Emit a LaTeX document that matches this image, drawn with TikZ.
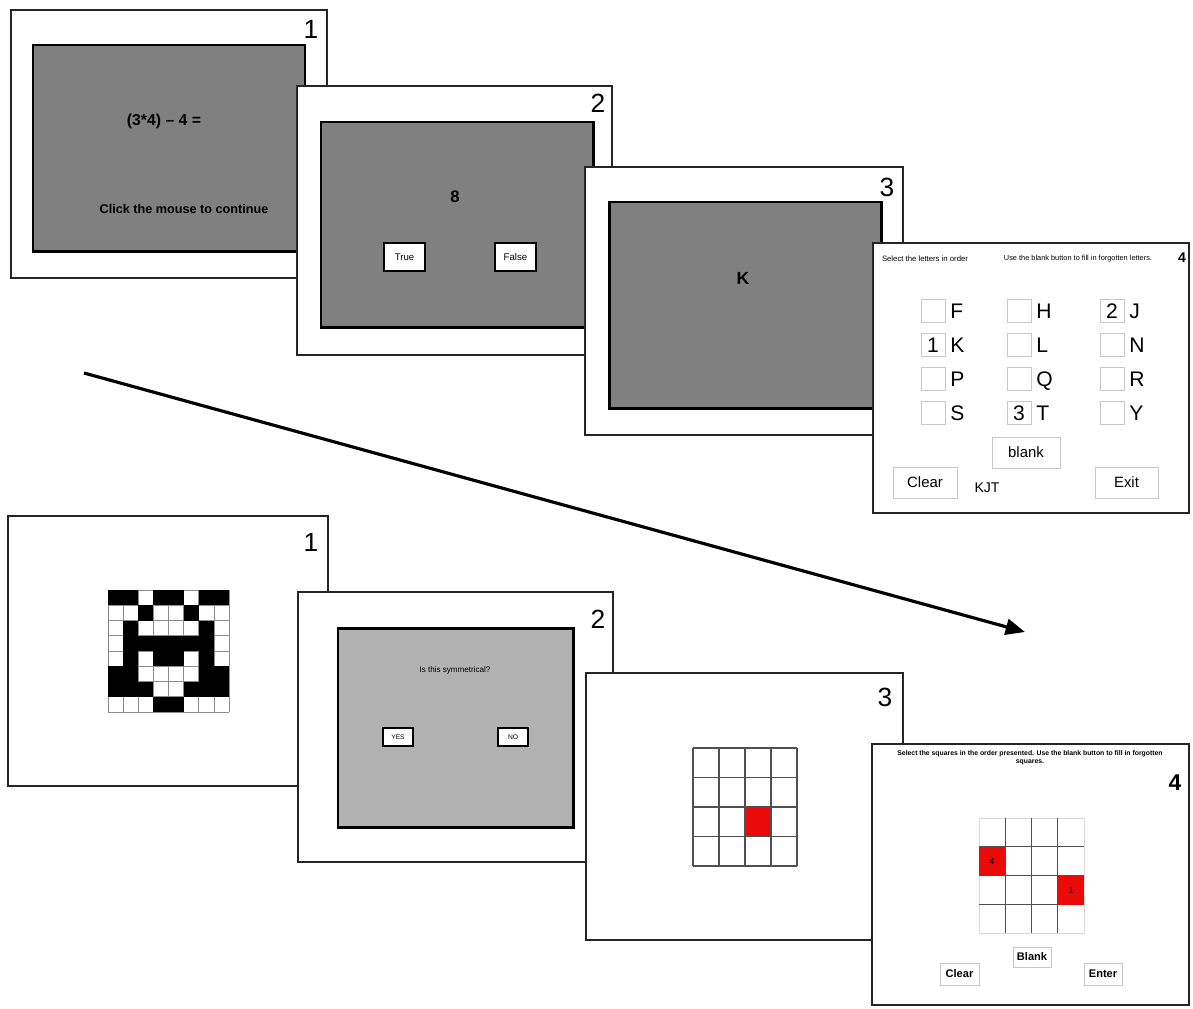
\documentclass[tikz,border=0pt]{standalone}
\usepackage{fontspec}
\setmainfont{Liberation Sans}
\usetikzlibrary{arrows.meta}
\definecolor{scrgray}{RGB}{128,128,128}
\definecolor{scrlight}{RGB}{178,178,178}
\definecolor{cellred}{RGB}{235,10,10}
\definecolor{btnline}{RGB}{200,200,200}
\definecolor{gridgray}{RGB}{80,80,80}
\newcommand\fsz[1]{\fontsize{#1}{#1}\selectfont}
\begin{document}
\begin{tikzpicture}[x=0.02cm,y=-0.02cm,
  frame/.style={draw=black!85,line width=1.1pt,fill=white},
  screen/.style={draw=black,line width=1.7pt,fill=scrgray},
  lightscreen/.style={draw=black,line width=1.7pt,fill=scrlight},
  num/.style={inner sep=0pt,font=\fsz{15}},
  boldbtn/.style={draw=black,line width=1.1pt,fill=white},
  thickbtn/.style={draw=black,line width=1.6pt,fill=white},
  softbtn/.style={draw=btnline,line width=0.5pt,fill=white},
  txt/.style={inner sep=0pt},
  letter/.style={inner sep=0pt,anchor=base west,font=\fsz{12}},
  ordnum/.style={inner sep=0pt,anchor=base,font=\fsz{12}},
  flowarrow/.style={line width=1.8pt,-{Triangle[length=11pt,width=9pt]}}]
\useasboundingbox (0,0) rectangle (1193,1008);
\fill[white] (0,0) rectangle (1193,1008);

% ---------- top row ----------
% panel 1
\draw[frame] (11,10) rectangle (327,278);
\draw[screen] (33,45) rectangle (305,251);
\node[num] (tnum1) at (311,29) {1};
\node[txt,font=\bfseries\fsz{9}] (teq) at (164,121) {(3*4) – 4 =};
\node[txt,font=\bfseries\fsz{7.2}] (tclick) at (184,209) {Click the mouse to continue};

% panel 2
\draw[frame] (297,86) rectangle (612,355);
\draw[screen] (321,122) rectangle (593,327);
\node[num] (tnum2) at (598,103) {2};
\node[txt,font=\bfseries\fsz{9.5}] (teight) at (455,197) {8};
\draw[boldbtn] (384,243) rectangle (425,271);
\node[txt,font=\fsz{5.5}] (ttrue) at (404.5,257) {True};
\draw[boldbtn] (495,243) rectangle (536,271);
\node[txt,font=\fsz{5.5}] (tfalse) at (515.5,257) {False};

% panel 3
\draw[frame] (585,167) rectangle (903,435);
\draw[screen] (609,202) rectangle (881,408);
\node[num] (tnum3) at (887,187) {3};
\node[txt,font=\bfseries\fsz{10}] (tK) at (743,278) {K};

% panel 4
\draw[frame] (873,243) rectangle (1189,513);
\node[txt,font=\bfseries\fsz{8}] (tnum4) at (1182,258) {4};
\node[txt,font=\fsz{4.4}] (thead1) at (925,259) {Select the letters in order};
\node[txt,font=\fsz{4.2}] (thead2) at (1078,259) {Use the blank button to fill in forgotten letters.};
\foreach \bx/\ci in {921/0,1007/1,1100/2}{
  \foreach \yy/\ri in {311/0,345/1,379/2,413/3}{
    \draw[softbtn] (\bx,\yy-11.5) rectangle (\bx+24,\yy+11.5);
  }
}
\foreach \bx/\ci/\la/\lb/\lc/\ld in {921/0/F/K/P/S,1007/1/H/L/Q/T,1100/2/J/N/R/Y}{
  \node[letter] (let-\ci-0) at (\bx+29,318.6) {\la};
  \node[letter] (let-\ci-1) at (\bx+29,352.6) {\lb};
  \node[letter] (let-\ci-2) at (\bx+29,386.6) {\lc};
  \node[letter] (let-\ci-3) at (\bx+29,420.6) {\ld};
}
\node[ordnum] (ordK) at (933,352.6) {1};
\node[ordnum] (ordJ) at (1112,318.6) {2};
\node[ordnum] (ordT) at (1019,420.6) {3};
\draw[softbtn] (992,437) rectangle (1060,468);
\node[txt,font=\fsz{8.5}] (tblank) at (1026,452.5) {blank};
\draw[softbtn] (893,467) rectangle (957,498);
\node[txt,font=\fsz{8.5}] (tclear) at (925,482.5) {Clear};
\draw[softbtn] (1095,467) rectangle (1158,498);
\node[txt,font=\fsz{8.5}] (texit) at (1126.5,482.5) {Exit};
\node[txt,font=\fsz{8}] (tkjt) at (987,488) {KJT};

% ---------- arrow ----------
\coordinate (arrS) at (84,373);
\coordinate (arrE) at (1025,632);
\draw[flowarrow] (arrS) -- (arrE);

% ---------- bottom row ----------
% panel 1 : symmetry matrix
\draw[frame] (8,516) rectangle (328,786);
\node[num] (bnum1) at (311,542) {1};
\fill[white] (108,590) rectangle (229,712);
\foreach \i in {0,...,8}{
  \draw[black!45,line width=0.4pt] (108+\i*15.125,590) -- (108+\i*15.125,712);
  \draw[black!45,line width=0.4pt] (108,590+\i*15.25) -- (229,590+\i*15.25);
}
\foreach \r/\row in {0/{1,1,0,1,1,0,1,1},1/{0,0,1,0,0,1,0,0},2/{0,1,0,0,0,0,1,0},3/{0,1,1,1,1,1,1,0},4/{0,1,0,1,1,0,1,0},5/{1,1,0,0,0,0,1,1},6/{1,1,1,0,0,1,1,1},7/{0,0,0,1,1,0,0,0}}{
  \foreach \v [count=\c from 0] in \row {
    \ifnum\v=1
      \fill[black] (108+\c*15.125,590+\r*15.25) rectangle (108+\c*15.125+15.125,590+\r*15.25+15.25);
    \fi
  }
}

% panel 2
\draw[frame] (298,592) rectangle (613,862);
\draw[lightscreen] (338,628) rectangle (573,827);
\node[num] (bnum2) at (598,619) {2};
\node[txt,font=\fsz{4.6}] (bquest) at (455,670) {Is this symmetrical?};
\draw[thickbtn] (383,728) rectangle (413,746);
\node[txt,font=\fsz{3.8}] (byes) at (398,737) {YES};
\draw[thickbtn] (498,728) rectangle (528,746);
\node[txt,font=\fsz{3.8}] (bno) at (513,737) {NO};

% panel 3
\draw[frame] (586,673) rectangle (903,940);
\node[num] (bnum3) at (885,697) {3};
\fill[cellred] (746,807) rectangle (771,837);
\foreach \i in {0,...,4}{
  \draw[gridgray,line width=0.8pt] (693+\i*26,748) -- (693+\i*26,866);
  \draw[gridgray,line width=0.8pt] (693,748+\i*29.5) -- (797,748+\i*29.5);
}

% panel 4
\draw[frame] (872,744) rectangle (1189,1005);
\node[txt,font=\bfseries\fsz{3.9}] (bhead1) at (1030,754) {Select the squares in the order presented. Use the blank button to fill in forgotten};
\node[txt,font=\bfseries\fsz{3.9}] (bhead2) at (1030,762) {squares.};
\node[txt,font=\bfseries\fsz{13}] (bnum4) at (1175,783) {4};
\draw[black!15,line width=0.5pt] (979,818) rectangle (1084,933);
\foreach \i in {1,...,3}{
  \draw[gridgray,line width=0.7pt] (979+\i*26.25,818) -- (979+\i*26.25,933);
  \draw[gridgray,line width=0.7pt] (979,818+\i*28.75) -- (1084,818+\i*28.75);
}
\fill[cellred] (979,847) rectangle (1005,876);
\fill[cellred] (1058,876) rectangle (1084,905);
\node[txt,font=\fsz{5}] (bord1) at (992,861.5) {4};
\node[txt,font=\fsz{5}] (bord2) at (1071,890.5) {1};
\draw[softbtn] (1013,947) rectangle (1051,967);
\node[txt,font=\bfseries\fsz{6.3}] (bblank) at (1032,957) {Blank};
\draw[softbtn] (940,963) rectangle (979,985);
\node[txt,font=\bfseries\fsz{6.3}] (bclear) at (959.5,974) {Clear};
\draw[softbtn] (1084,963) rectangle (1122,985);
\node[txt,font=\bfseries\fsz{6.3}] (benter) at (1103,974) {Enter};
\end{tikzpicture}
\end{document}
